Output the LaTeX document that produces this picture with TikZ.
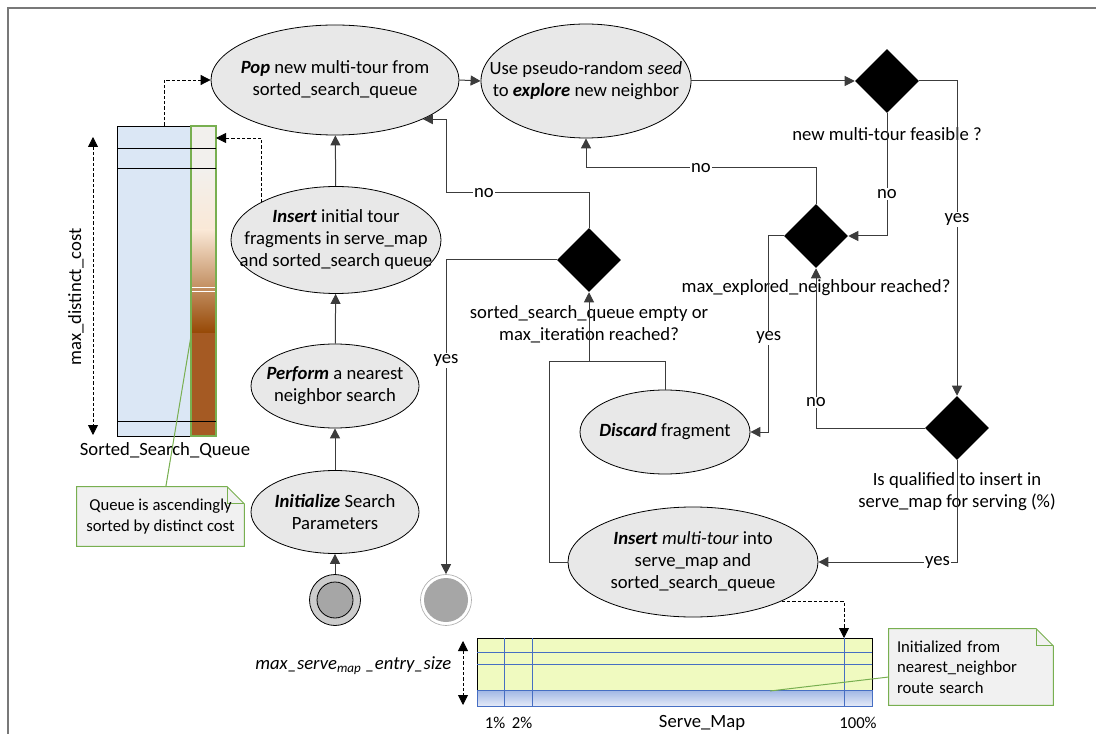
\documentclass[tikz,border=0pt]{standalone}
\usepackage{fontspec}
\setmainfont{Carlito}
\usetikzlibrary{shapes.geometric,arrows.meta,calc,backgrounds}

\definecolor{nodefill}{RGB}{232,232,232}
\definecolor{linegray}{RGB}{60,60,60}
\definecolor{framegray}{RGB}{120,120,120}
\definecolor{qblue}{RGB}{219,231,245}
\definecolor{qgreen}{RGB}{120,175,80}
\definecolor{qtop}{RGB}{242,240,237}
\definecolor{qpeach}{RGB}{250,232,214}
\definecolor{qbrown}{RGB}{165,90,35}
\definecolor{qdark}{RGB}{150,72,5}
\definecolor{smyellow}{RGB}{240,250,192}
\definecolor{smblue}{RGB}{70,110,195}
\definecolor{smband}{RGB}{160,182,228}
\definecolor{smbandlight}{RGB}{228,234,248}
\definecolor{notefill}{RGB}{241,241,241}
\definecolor{ringgray}{RGB}{204,204,204}
\definecolor{coregray}{RGB}{166,166,166}
\definecolor{endring}{RGB}{175,175,175}

\begin{document}
\begin{tikzpicture}[x=0.75pt,y=-0.75pt,
  font=\fontsize{14}{16.5}\selectfont,
  act/.style={ellipse, draw=black, fill=nodefill, inner sep=0pt, line width=0.6pt},
  acttext/.style={align=center, inner sep=0pt},
  dec/.style={diamond, fill=black, minimum width=48pt, minimum height=48pt, inner sep=0pt},
  flow/.style={draw=linegray, line width=0.75pt},
  arr/.style={flow, -{Triangle[length=7.5pt,width=7.5pt]}},
  dasharr/.style={draw=black, line width=0.6pt, dash pattern=on 2.5pt off 1.5pt, -{Triangle[length=7.5pt,width=7.5pt]}},
  lbl/.style={fill=white, inner sep=1pt},
  cond/.style={align=center},
  small/.style={font=\fontsize{12.5}{15.5}\selectfont},
  notebox/.style={small, inner sep=0pt},
  gridline/.style={draw=smblue, line width=0.75pt},
  greenlink/.style={draw=qgreen, line width=0.75pt}
]
\useasboundingbox (0,0) rectangle (1096,734);

% outer frame
\draw[framegray, line width=1.2pt] (8,760) -- (8,8) -- (1120,8);

% ---------- sorted search queue ----------
\node[draw=black, fill=qblue, minimum width=55.5pt, minimum height=232.5pt, inner sep=0pt, line width=0.6pt] (queue) at (154,281) {};
\fill[qtop] (191,126) rectangle (216,169);
\shade[top color=qtop, bottom color=qpeach] (191,169) rectangle (216,230);
\shade[top color=qpeach, bottom color=qdark] (191,230) rectangle (216,333);
\fill[qbrown] (191,333) rectangle (216,436);
\draw[white, line width=0.5pt] (191,287.5) -- (216,287.5) (191,291) -- (216,291);
\draw[qgreen, line width=0.8pt] (191,126) rectangle (216,436);
\draw[black, line width=0.75pt] (117,149) -- (216,149) (117,169) -- (216,169) (117,421) -- (216,421);
\node (qlabel) at (165,450) {Sorted\_Search\_Queue};
\coordinate (qhi) at (93,137);
\coordinate (qlo) at (93,435);
\draw[draw=black, line width=0.6pt, dash pattern=on 2.5pt off 1.5pt, {Triangle[length=7.5pt,width=7.5pt]}-{Triangle[length=7.5pt,width=7.5pt]}] (qhi) -- (qlo);
\node[rotate=90] (qsize) at (76,297) {max\_distinct\_cost};
\coordinate (qin) at (216,138);
\coordinate (qnote) at (191,336);

% ---------- activities (fixed-size ellipses, text set as centred labels) ----------
\node[act, minimum width=186pt, minimum height=82.5pt,
  label={[acttext]center:\textbf{\textit{Pop}} new multi-tour from\\sorted\_search\_queue}] (pop) at (335,80) {};
\node[act, minimum width=157.5pt, minimum height=85.5pt,
  label={[acttext]center:Use pseudo-random \textit{seed}\\to \textbf{\textit{explore}} new neighbor}] (use) at (586,81) {};
\node[act, minimum width=157.5pt, minimum height=80.25pt,
  label={[acttext]center:\textbf{\textit{Insert}} initial tour\\fragments in serve\_map\\and sorted\_search queue}] (insinit) at (336,240) {};
\node[act, minimum width=126pt, minimum height=63pt,
  label={[acttext]center:\textbf{\textit{Perform}} a nearest\\neighbor search}] (perform) at (335,386) {};
\node[act, minimum width=126pt, minimum height=62.25pt,
  label={[acttext]center:\textbf{\textit{Initialize}} Search\\Parameters}] (init) at (335,512) {};
\node[act, minimum width=127.5pt, minimum height=63pt,
  label={[acttext]center:\textbf{\textit{Discard}} fragment}] (discard) at (665,432) {};
\node[act, minimum width=187.5pt, minimum height=82.5pt,
  label={[acttext]center:\textbf{\textit{Insert}} \textit{multi-tour} into\\serve\_map and\\sorted\_search\_queue}] (insmt) at (693,562) {};

% ---------- decisions ----------
\node[dec] (d1) at (887,81) {};
\node[dec] (d2) at (816,236) {};
\node[dec] (d3) at (957,428) {};
\node[dec] (d4) at (589,260) {};
\node[cond] (c1) at (887,134) {new multi-tour feasible ?};
\node[cond] (c2) at (816,288) {max\_explored\_neighbour reached?};
\node[cond] (c3) at (957,492) {Is qualified to insert in\\serve\_map for serving (\%)};
\node[cond] (c4) at (589,324) {sorted\_search\_queue empty or\\max\_iteration reached?};

% ---------- start / end ----------
\node[circle, draw=black, fill=ringgray, minimum size=38.25pt, inner sep=0pt, line width=0.6pt] (start) at (335,600) {};
\draw[fill=coregray, line width=0.6pt] (start.center) circle[radius=13.5pt];
\node[circle, draw=endring, fill=white, minimum size=38.25pt, inner sep=0pt, line width=0.5pt] (final) at (446,600) {};
\fill[coregray] (final.center) circle[radius=16.5pt];

% ---------- control flow ----------
\draw[arr] (start) -- (init);
\draw[arr] (init) -- (perform);
\draw[arr] (perform) -- (insinit);
\draw[arr] (insinit) -- (pop);
\draw[arr] (pop.east) -- (use.west);
\draw[arr] (use.east) -- (d1.west);
\draw[arr] (d1.east) -| node[lbl, pos=0.72] {yes} (d3.north);
\draw[arr] (d1.south) |- node[lbl, pos=0.33] {no} (d2.east);
\draw[arr] (d2.north) -- ++(0,-36) -| node[lbl, pos=0.25] {no} (use.south);
\draw[arr] (d2.west) -- ++(-15,0) |- node[lbl, pos=0.26] {yes} (discard.east);
\draw[arr] (d3.west) -| node[lbl, pos=0.58] {no} (d2.south);
\draw[arr] (d3.south) |- node[lbl, pos=0.57] {yes} (insmt.east);
\coordinate (merge) at (589,361);
\draw[flow] (insmt.west) -- ++(-18,0) |- (merge);
\draw[arr] (discard.north) |- (merge) -- (d4.south);
\draw[arr] (d4.north) -- ++(0,-35) -| node[lbl, pos=0.37] {no} ($(pop.south east)+(24,0)$) -- (pop.south east);
\draw[arr] (d4.west) -| node[lbl, pos=0.66] {yes} (final.north);

% ---------- data flow ----------
\draw[dasharr] ([xshift=7.5pt]queue.north) |- (pop.west);
\draw[dasharr] (insinit.north west) |- (qin);
\coordinate (smin) at (844,638);
\draw[dasharr] (insmt.south east) -| (smin);

% ---------- serve map ----------
\node[draw=black, fill=smyellow, minimum width=296.25pt, minimum height=39pt, inner sep=0pt, line width=0.6pt] (smap) at (674.5,664) {};
\shade[top color=smband, bottom color=smbandlight] (477,690) rectangle (872,706);
\draw[smblue, line width=0.6pt] (477,690) rectangle (872,706);
\draw[gridline] (477,652) -- (872,652) (477,664) -- (872,664);
\draw[gridline] (504,638) -- (504,706) (532,638) -- (532,706) (844,638) -- (844,706);
\node[small] (p1) at (495,723) {1\%};
\node[small] (p2) at (522,723) {2\%};
\node (smlabel) at (702,723) {Serve\_Map};
\node[small] (p100) at (858,723) {100\%};
\coordinate (shi) at (463,641);
\coordinate (slo) at (463,705);
\draw[draw=black, line width=0.6pt, dash pattern=on 2.5pt off 1.5pt, {Triangle[length=7.5pt,width=7.5pt]}-{Triangle[length=7.5pt,width=7.5pt]}] (shi) -- (slo);
\node[anchor=east, font=\fontsize{14}{16.5}\selectfont\itshape] (ssize) at (456,666) {max\_serve\textsubscript{map} \_entry\_size};
\coordinate (sband) at (770,691);

% ---------- notes ----------
\node[notebox, align=center, minimum width=125.25pt, minimum height=44.25pt] (note1) at (160.5,516.5)
  {Queue is ascendingly\\sorted by distinct cost};
\node[notebox, align=left, text width=111pt, minimum width=123pt, minimum height=57pt] (note2) at (971,667)
  {Initialized from\\nearest\_neighbor\\route search};
\begin{scope}[on background layer]
  \filldraw[fill=notefill, draw=qgreen, line width=0.75pt]
    (note1.north west) -- ([xshift=-12.75pt]note1.north east) -- ([yshift=-12.75pt]note1.north east)
    -- (note1.south east) -- (note1.south west) -- cycle;
  \draw[qgreen, line width=0.75pt] ([xshift=-12.75pt]note1.north east) |- ([yshift=-12.75pt]note1.north east);
  \filldraw[fill=notefill, draw=qgreen, line width=0.75pt]
    (note2.north west) -- ([xshift=-12.75pt]note2.north east) -- ([yshift=-12.75pt]note2.north east)
    -- (note2.south east) -- (note2.south west) -- cycle;
  \draw[qgreen, line width=0.75pt] ([xshift=-12.75pt]note2.north east) |- ([yshift=-12.75pt]note2.north east);
\end{scope}
\draw[greenlink] ([xshift=4pt]note1.north) -- (qnote);
\draw[greenlink] ([yshift=-7.5pt]note2.west) -- (sband);
\end{tikzpicture}
\end{document}
